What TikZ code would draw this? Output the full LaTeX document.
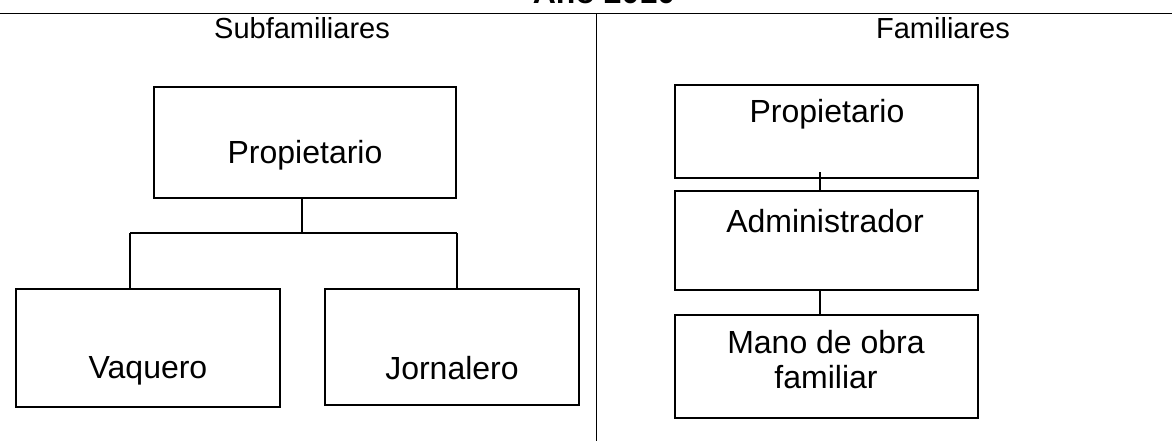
\documentclass[tikz,border=0pt]{standalone}
\usepackage{fontspec}
\setmainfont{Liberation Sans}
\begin{document}
\begin{tikzpicture}[x=1pt,y=-1pt,
  box/.style={draw, line width=2.4pt, inner sep=0pt, outer sep=0pt},
  conn/.style={line width=1.4pt},
  rule/.style={line width=1.3pt},
  lbl/.style={anchor=base, inner sep=0pt, font=\fontsize{32}{38}\selectfont},
  head/.style={anchor=base, inner sep=0pt, font=\fontsize{29}{34}\selectfont}]
\useasboundingbox (0,0) rectangle (1172,441);
\clip (0,0) rectangle (1172,441);
\fill[white] (0,0) rectangle (1172,441);
% title and header rules
\node[anchor=base, inner sep=0pt, font=\bfseries\fontsize{32}{38}\selectfont] (title) at (604,4) {Año 2010};
\coordinate (hl) at (0,13.5);
\coordinate (hr) at (1172,13.5);
\coordinate (dt) at (596.5,13.5);
\coordinate (db) at (596.5,441);
\draw[rule] (hl) -- (hr);
\draw[rule] (dt) -- (db);
\node[head] (hsub) at (302,39) {Subfamiliares};
\node[head] (hfam) at (943,39) {Familiares};
% left tree
\node[box, minimum width=302pt, minimum height=111pt] (lp) at (305,142.5) {};
\node[lbl] (lpt) at (305,163) {Propietario};
\node[box, minimum width=264pt, minimum height=118pt] (vq) at (148,348) {};
\node[lbl] (vqt) at (148,378) {Vaquero};
\node[box, minimum width=254pt, minimum height=116pt] (jo) at (452,347) {};
\node[lbl] (jot) at (452,379) {Jornalero};
\coordinate (barL) at (130,233);
\coordinate (barR) at (457,233);
\draw[conn] ([xshift=-3pt]lp.south) -- ([xshift=-3pt]lp.south |- barL);
\draw[conn] (barL) -- (barR);
\draw[conn] (barL) -- (barL |- vq.north);
\draw[conn] (barR) -- (barR |- jo.north);
% right chain
\node[box, minimum width=303pt, minimum height=93pt] (rp) at (826.5,131.5) {};
\node[lbl] (rpt) at (827,123) {Propietario};
\node[box, minimum width=303pt, minimum height=99pt] (ad) at (826.5,240.5) {};
\node[lbl] (adt) at (825,232) {Administrador};
\node[box, minimum width=303pt, minimum height=103pt] (mo) at (826.5,366.5) {};
\node[lbl] (mot1) at (826,353) {Mano de obra};
\node[lbl] (mot2) at (826,388) {familiar};
\draw[conn] ([xshift=-6.5pt,yshift=6pt]rp.south) -- ([xshift=-6.5pt]ad.north);
\draw[conn] ([xshift=-6.5pt]ad.south) -- ([xshift=-6.5pt]mo.north);
\end{tikzpicture}
\end{document}
